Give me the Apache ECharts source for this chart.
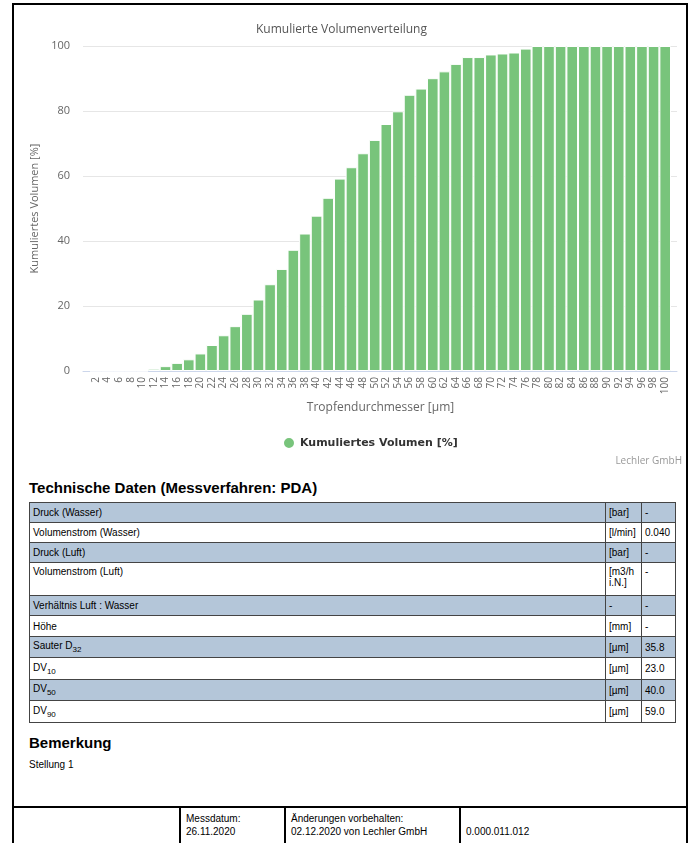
<!DOCTYPE html>
<html>
<head>
<meta charset="utf-8">
<script src="https://cdn.jsdelivr.net/npm/echarts@6/dist/echarts.min.js"></script>
<style>
  body { margin: 0; background: #fff; font-family: "Liberation Sans", Arial, sans-serif; }
  #page { position: absolute; left: 12px; top: 3px; width: 676px; height: 900px; border: 2px solid #000; box-sizing: border-box; }
  #chart { position: absolute; left: 0; top: 0; width: 697px; height: 470px; }
  .h { position: absolute; left: 29px; font-weight: bold; font-size: 15px; color: #000; }
  table { position: absolute; left: 29px; top: 502px; width: 647px; border-collapse: collapse; font-size: 10px; }
  td { border: 1px solid #444; padding: 0 3px; color: #000; vertical-align: middle; }
  tr.b td { background: #b4c6d9; }
  td.u { width: 29px; }
  td.v { width: 27px; }
  sub { font-size: 8px; }
  .t { position: absolute; font-size: 10px; color: #000; line-height: 13px; }
  .hl { position: absolute; left: 12px; top: 806px; width: 676px; height: 2px; background: #000; }
  .vl { position: absolute; top: 806px; width: 2px; height: 40px; background: #000; }
</style>
</head>
<body>
<div id="page"></div>
<div id="chart"></div>

<div class="h" style="top:479px">Technische Daten (Messverfahren: PDA)</div>
<table>
  <tr class="b" style="height:20px"><td>Druck (Wasser)</td><td class="u">[bar]</td><td class="v">-</td></tr>
  <tr style="height:20px"><td>Volumenstrom (Wasser)</td><td class="u">[l/min]</td><td class="v">0.040</td></tr>
  <tr class="b" style="height:20px"><td>Druck (Luft)</td><td class="u">[bar]</td><td class="v">-</td></tr>
  <tr style="height:33px"><td style="vertical-align:top;padding-top:3px">Volumenstrom (Luft)</td><td class="u" style="vertical-align:top;padding-top:3px">[m3/h i.N.]</td><td class="v" style="vertical-align:top;padding-top:3px">-</td></tr>
  <tr class="b" style="height:20px"><td>Verhältnis Luft : Wasser</td><td class="u">-</td><td class="v">-</td></tr>
  <tr style="height:21px"><td>Höhe</td><td class="u">[mm]</td><td class="v">-</td></tr>
  <tr class="b" style="height:21px"><td>Sauter D<sub>32</sub></td><td class="u">[µm]</td><td class="v">35.8</td></tr>
  <tr style="height:22px"><td>DV<sub>10</sub></td><td class="u">[µm]</td><td class="v">23.0</td></tr>
  <tr class="b" style="height:21px"><td>DV<sub>50</sub></td><td class="u">[µm]</td><td class="v">40.0</td></tr>
  <tr style="height:22px"><td>DV<sub>90</sub></td><td class="u">[µm]</td><td class="v">59.0</td></tr>
</table>

<div class="h" style="top:734px">Bemerkung</div>
<div class="t" style="left:29px;top:758px">Stellung 1</div>

<div class="hl"></div>
<div class="vl" style="left:179px"></div>
<div class="vl" style="left:284px"></div>
<div class="vl" style="left:459px"></div>
<div class="t" style="left:186px;top:812px">Messdatum:<br>26.11.2020</div>
<div class="t" style="left:291px;top:812px">Änderungen vorbehalten:<br>02.12.2020 von Lechler GmbH</div>
<div class="t" style="left:466px;top:825px">0.000.011.012</div>

<script>
var sizes = ['2','4','6','8','10','12','14','16','18','20','22','24','26','28','30','32','34','36','38','40',
  '42','44','46','48','50','52','54','56','58','60','62','64','66','68','70','72','74','76','78','80',
  '82','84','86','88','90','92','94','96','98','100'];
var volume = [0, 0, 0, 0, 0, 0.7, 1.5, 2.5, 3.6, 5.4, 8.0, 11.0, 13.8, 17.6, 22.0, 26.7, 31.4, 37.3, 42.3, 47.8,
  53.3, 59.2, 62.7, 67.0, 71.1, 76.0, 79.9, 85.0, 86.9, 90.1, 92.2, 94.5, 96.6, 96.6, 97.4, 97.7, 98.0, 99.2, 100, 100,
  100, 100, 100, 100, 100, 100, 100, 100, 100, 100];
var yTicks = [0, 20, 40, 60, 80, 100];

var chart = echarts.init(document.getElementById('chart'));
var option = {
  animation: false,
  title: [
    {
      text: 'Kumulierte Volumenverteilung',
      left: 251,
      top: 19,
      textStyle: { fontFamily: 'Open Sans', fontSize: 12, fontWeight: 'normal', color: '#555' }
    },
    {
      text: 'Lechler GmbH',
      right: 10,
      top: 451,
      textStyle: { fontFamily: 'Open Sans', fontSize: 10, fontWeight: 'normal', color: '#999' }
    }
  ],
  legend: {
    left: 277,
    top: 431,
    icon: 'circle',
    itemWidth: 12,
    itemHeight: 12,
    itemGap: 6,
    textStyle: { fontFamily: 'DejaVu Sans', fontSize: 11, fontWeight: 'bold', color: '#333' }
  },
  grid: [
    { left: 90, right: 26, top: 46, bottom: 99 },   // bars
    { left: 83, right: 20, top: 46, bottom: 99 }    // background axes
  ],
  xAxis: [
    {
      type: 'category',
      gridIndex: 0,
      data: sizes,
      axisLine: { show: false },
      axisTick: { alignWithLabel: true, length: 6, lineStyle: { color: '#ccd6eb' } },
      axisLabel: { rotate: 90, interval: 0, fontSize: 10, color: '#666', margin: 6, fontFamily: 'Open Sans' },
      name: 'Tropfendurchmesser [µm]',
      nameLocation: 'middle',
      nameGap: 31,
      nameTextStyle: { fontFamily: 'Open Sans', fontSize: 12, color: '#666' }
    },
    {
      type: 'value',
      gridIndex: 1,
      min: 0,
      max: 1,
      axisLine: { show: true, lineStyle: { color: '#ccd6eb' } },
      axisTick: { show: false },
      axisLabel: { show: false },
      splitLine: { show: false }
    }
  ],
  yAxis: [
    { type: 'value', gridIndex: 0, min: 0, max: 100, show: false },
    {
      type: 'value',
      gridIndex: 1,
      min: yTicks[0],
      max: yTicks[yTicks.length - 1],
      interval: 20,
      axisLine: { show: false },
      axisTick: { show: false },
      axisLabel: { fontSize: 11, color: '#666', margin: 13, fontFamily: 'Open Sans' },
      splitLine: { lineStyle: { color: '#e6e6e6' } },
      name: 'Kumuliertes Volumen [%]',
      nameLocation: 'middle',
      nameGap: 36,
      nameTextStyle: { fontFamily: 'Open Sans', fontSize: 11, color: '#666' }
    }
  ],
  series: [
    {
      name: 'Kumuliertes Volumen [%]',
      type: 'bar',
      xAxisIndex: 0,
      yAxisIndex: 0,
      data: volume,
      barCategoryGap: '0%',
      itemStyle: { color: '#78c47b', borderColor: '#fff', borderWidth: 1 }
    }
  ]
};
chart.setOption(option);
</script>
</body>
</html>
